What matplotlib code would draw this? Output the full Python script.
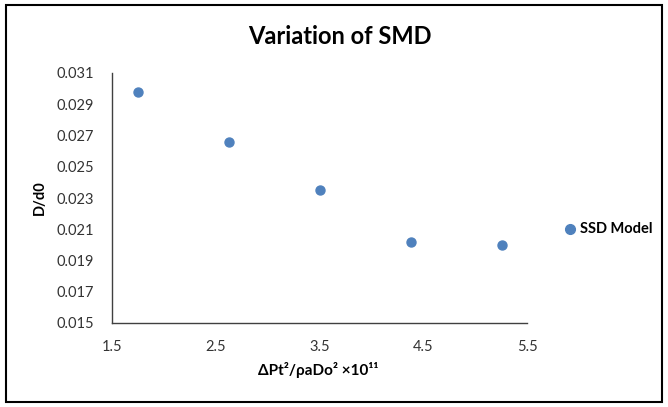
import matplotlib
matplotlib.use("Agg")
from matplotlib import pyplot as plt
from matplotlib.patches import Rectangle

# values
pressure_ratio = [1.75, 2.63, 3.50, 4.38, 5.26]
d_ratio = [0.0298, 0.0266, 0.0235, 0.0202, 0.0200]
xticks = [1.5, 2.5, 3.5, 4.5, 5.5]
yticks = [0.015, 0.017, 0.019, 0.021, 0.023, 0.025, 0.027, 0.029, 0.031]

plt.rcParams['font.family'] = ['Lato', 'DejaVu Sans']

fig = plt.figure(figsize=(6.68, 4.07), dpi=100)
ax = fig.add_axes([112/668, 1-323/407, (527-112)/668, (323-73)/407])

ax.scatter(pressure_ratio, d_ratio, s=42, color='#4f81bd', zorder=3)
ax.set_xlim(1.5, 5.5)
ax.set_ylim(0.015, 0.031)
ax.set_xticks(xticks)
ax.set_xticklabels([f"{v:.1f}" for v in xticks])
ax.set_yticks(yticks)
ax.set_yticklabels([f"{v:.3f}" for v in yticks])
ax.tick_params(length=0, labelsize=10.5, colors='#333333')
ax.tick_params(axis='y', pad=13)
ax.tick_params(axis='x', pad=12)
for s in ['top', 'right']:
    ax.spines[s].set_visible(False)
for s in ['left', 'bottom']:
    ax.spines[s].set_color('#404040')
    ax.spines[s].set_linewidth(1)

fig.text(340/668, 1-36/407, "Variation of SMD", ha='center', va='center',
         fontsize=17, fontweight='bold')
fig.text(40/668, 1-198/407, "D/d0", ha='center', va='center', rotation=90,
         fontsize=10.5, fontweight='bold')
fig.text(318/668, 1-370/407, "ΔPt²/ρaDo² ×10¹¹", ha='center', va='center',
         fontsize=11, fontweight='bold')

# legend
fig.lines.append(plt.Line2D([570/668], [1-229/407], marker='o', markersize=7,
                            color='#4f81bd', linestyle='none',
                            transform=fig.transFigure))
fig.text(580/668, 1-229/407, "SSD Model", ha='left', va='center',
         fontsize=10.5, fontweight='bold')

fig.patches.append(Rectangle((6/668, 5/407), 656/668, 397/407, fill=False,
                             edgecolor='black', linewidth=1.5,
                             transform=fig.transFigure))

fig.savefig("out.png", dpi=100)
